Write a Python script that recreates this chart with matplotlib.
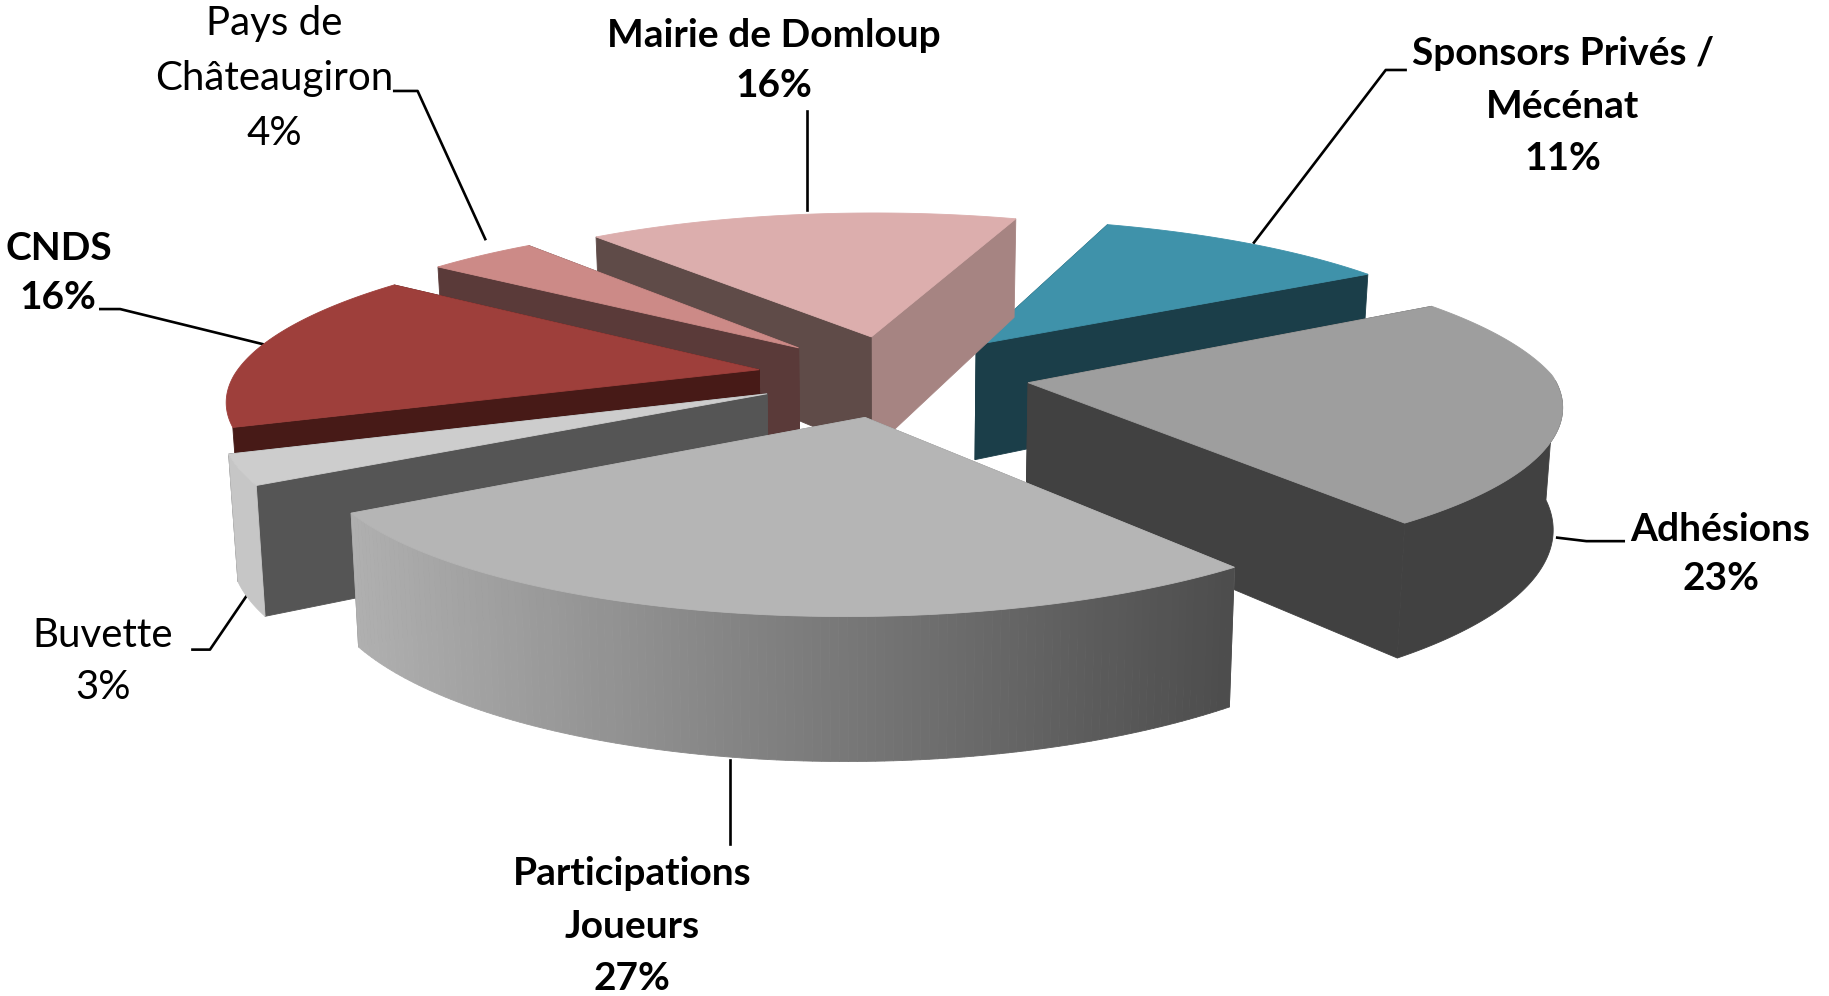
import numpy as np
import matplotlib
matplotlib.use("Agg")
import matplotlib.pyplot as plt
from matplotlib.patches import Polygon

# going clockwise from the top right of the pie
categories = ["Sponsors Privés /\nMécénat", "Adhésions", "Participations\nJoueurs", "Buvette",
              "CNDS", "Pays de\nChâteaugiron", "Mairie de Domloup"]
values = [11, 23, 27, 3, 16, 4, 16]
top_colors = ["#3f92aa", "#9e9e9e", "#b5b5b5", "#cdcdcd", "#9e3f3b", "#cc8a87", "#dcaead"]
wall_colors = ["#1b3e49", "#414141", "#808080", "#c6c6c6", "#471a17", "#5a3a39", "#a68482"]
lo_face_colors = ["#1b3e49", "#414141", "#808080", "#555555", "#471a17", "#5a3a39", "#a68482"]
hi_face_colors = ["#1b3e49", "#414141", "#808080", "#555555", "#471a17", "#5a3a39", "#5f4b48"]
show_wall = [True, True, True, True, False, True, True]
bold_labels = [True, True, True, False, True, False, True]
label_x = [1340, 1475, 542, 88, 50, 235, 663]
label_y = [91, 475, 794, 567, 234, 67, 52]
leaders = [
    [(1205, 60), (1188, 60), (1075, 208)],
    [(1392, 464), (1360, 464), (1335, 461)],
    [(626, 652), (626, 724)],
    [(212, 510), (180, 557), (165, 557)],
    [(86, 265), (103, 265), (225, 295)],
    [(338, 78), (358, 78), (416, 205)],
    [(692, 95), (692, 180)],
]
draw_order = [0, 6, 5, 4, 3, 1, 2]

start_angle = 71
explode = 0.26
cx, cy = 766, 322
rx, ry = 450, 135
depth = 102
persp_front = 7.0
persp_back = 5.8
z_shrink = 0.1
front_shear = 13

plt.rcParams['font.family'] = ['Lato', 'DejaVu Sans']

fig = plt.figure(figsize=(18.29, 9.96), dpi=100)
ax = fig.add_axes([0, 0, 1, 1])
ax.set_xlim(0, 1568)
ax.set_ylim(854, 0)
ax.axis('off')


def project(x, y, z=0.0):
    persp = persp_back if y > 0 else persp_front
    s = 1 / (1 + y / persp)
    sx = s / (1 + z * z_shrink / persp_front)
    shear = front_shear * min(y, 0)
    return cx + shear + x * rx * sx, cy - y * ry * s + z * depth * s


def add_poly(pts, color, zorder):
    ax.add_patch(Polygon(pts, closed=True, facecolor=color, edgecolor=color, linewidth=0.6, zorder=zorder))


def face(x0, y0, x1, y1, color, zorder):
    add_poly([project(x0, y0), project(x1, y1), project(x1, y1, 1), project(x0, y0, 1)], color, zorder)


# angle where every slice starts, running clockwise
ends = start_angle - np.cumsum(values) * 3.6
starts = ends + np.array(values) * 3.6

for rank, i in enumerate(draw_order):
    hi = np.radians(starts[i])
    lo = np.radians(ends[i])
    mid = (hi + lo) / 2
    ox = explode * np.cos(mid)
    oy = explode * np.sin(mid)
    theta = np.linspace(hi, lo, 120)
    xs = ox + np.cos(theta)
    ys = oy + np.sin(theta)
    z = 10 + rank * 10

    face(ox, oy, xs[-1], ys[-1], lo_face_colors[i], z)
    face(ox, oy, xs[0], ys[0], hi_face_colors[i], z)

    # outer wall only where it faces the viewer
    front = np.sin(theta) < 0.02
    fx, fy = xs[front], ys[front]
    if categories[i].startswith("Participations"):
        # gradient, light on the left to dark on the right
        left = project(fx[-1], fy[-1])[0]
        right = project(fx[0], fy[0])[0]
        for k in range(len(fx) - 1):
            pts = [project(fx[k], fy[k]), project(fx[k + 1], fy[k + 1]),
                   project(fx[k + 1], fy[k + 1], 1), project(fx[k], fy[k], 1)]
            t = (pts[0][0] - left) / (right - left)
            g = 0.69 + (0.30 - 0.69) * t
            add_poly(pts, (g, g, g), z + 1)
    elif show_wall[i] and len(fx) > 1:
        wall = [project(a, b) for a, b in zip(fx, fy)] + [project(a, b, 1) for a, b in zip(fx[::-1], fy[::-1])]
        add_poly(wall, wall_colors[i], z + 1)

    add_poly([project(ox, oy)] + [project(a, b) for a, b in zip(xs, ys)], top_colors[i], z + 2)

for i, name in enumerate(categories):
    three_lines = "\n" in name
    ax.text(label_x[i], label_y[i], f"{name}\n{values[i]}%", ha='center', va='center',
            fontsize=28 if bold_labels[i] else 29, fontweight='bold' if bold_labels[i] else 'normal',
            linespacing=1.6 if three_lines else 1.5, color='black', zorder=200)
    line = np.array(leaders[i])
    ax.plot(line[:, 0], line[:, 1], color='black', lw=1.9, zorder=5)

fig.savefig("out.png", dpi=100)
